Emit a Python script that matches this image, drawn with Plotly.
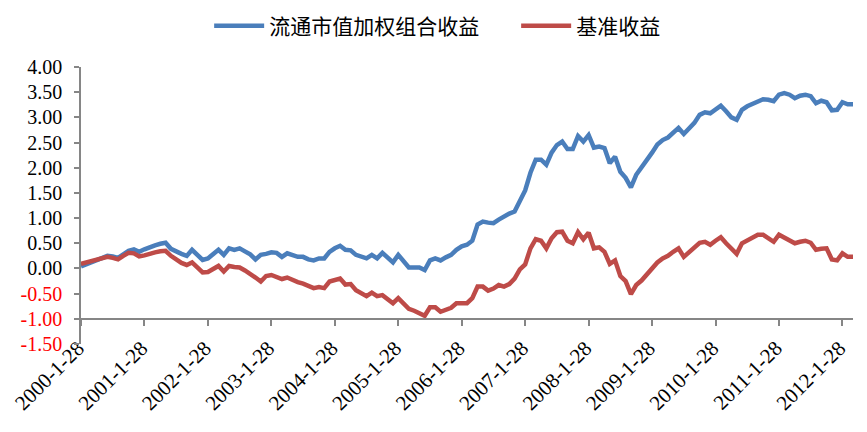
import plotly.graph_objects as go

# Monthly dates (categories), 2000-1-28 .. 2012-3-28
dates = [f"{y}-{m}-28" for y in range(2000, 2013) for m in range(1, 13)][:147]

portfolio = [
    0.04, 0.08, 0.13, 0.17, 0.21, 0.25, 0.24, 0.21, 0.28, 0.35, 0.38, 0.33,
    0.38, 0.43, 0.46, 0.49, 0.51, 0.39, 0.33, 0.29, 0.25, 0.37, 0.27, 0.17,
    0.20, 0.28, 0.37, 0.27, 0.40, 0.37, 0.40, 0.34, 0.28, 0.18, 0.27, 0.29,
    0.32, 0.31, 0.23, 0.30, 0.27, 0.23, 0.23, 0.18, 0.16, 0.20, 0.20, 0.33,
    0.40, 0.45, 0.37, 0.36, 0.27, 0.23, 0.20, 0.27, 0.20, 0.31, 0.22, 0.12,
    0.27, 0.15, 0.02, 0.02, 0.02, -0.03, 0.16, 0.20, 0.16, 0.22, 0.27, 0.37,
    0.44, 0.47, 0.55, 0.87, 0.93, 0.91, 0.90, 0.97, 1.04, 1.09, 1.13, 1.36,
    1.55, 1.90, 2.16, 2.16, 2.06, 2.30, 2.45, 2.52, 2.37, 2.37, 2.63, 2.52,
    2.65, 2.40, 2.42, 2.39, 2.09, 2.22, 1.92, 1.80, 1.61, 1.86, 2.00, 2.15,
    2.30, 2.46, 2.55, 2.60, 2.70, 2.79, 2.67, 2.78, 2.89, 3.05, 3.10, 3.08,
    3.15, 3.23, 3.12, 3.00, 2.95, 3.15, 3.22, 3.27, 3.33, 3.36, 3.35, 3.32,
    3.45, 3.48, 3.45, 3.38, 3.43, 3.45, 3.42, 3.28, 3.33, 3.30, 3.14, 3.15,
    3.30, 3.26, 3.26,
]

benchmark = [
    0.09, 0.12, 0.15, 0.17, 0.20, 0.23, 0.21, 0.18, 0.25, 0.31, 0.30, 0.24,
    0.26, 0.30, 0.32, 0.34, 0.35, 0.25, 0.17, 0.11, 0.07, 0.12, 0.02, -0.08,
    -0.07, -0.01, 0.05, -0.06, 0.05, 0.03, 0.02, -0.04, -0.10, -0.18, -0.26, -0.15,
    -0.13, -0.17, -0.21, -0.18, -0.23, -0.27, -0.30, -0.34, -0.39, -0.37, -0.39, -0.26,
    -0.23, -0.20, -0.32, -0.31, -0.43, -0.49, -0.55, -0.48, -0.55, -0.53, -0.61, -0.69,
    -0.59, -0.70, -0.80, -0.84, -0.88, -0.94, -0.77, -0.77, -0.86, -0.82, -0.78, -0.69,
    -0.69, -0.69, -0.59, -0.36, -0.36, -0.44, -0.40, -0.33, -0.36, -0.31, -0.20, -0.02,
    0.08, 0.40, 0.58, 0.55, 0.40, 0.60, 0.72, 0.73, 0.55, 0.50, 0.72, 0.58,
    0.71, 0.40, 0.42, 0.33, 0.09, 0.16, -0.15, -0.25, -0.51, -0.33, -0.24, -0.12,
    0.02, 0.12, 0.20, 0.25, 0.33, 0.40, 0.23, 0.33, 0.40, 0.51, 0.53, 0.47,
    0.55, 0.62, 0.50, 0.38, 0.29, 0.50, 0.55, 0.62, 0.67, 0.67, 0.60, 0.53,
    0.67, 0.62, 0.57, 0.50, 0.53, 0.55, 0.51, 0.37, 0.39, 0.40, 0.18, 0.16,
    0.30, 0.23, 0.23,
]

series_names = ["流通市值加权组合收益", "基准收益"]
series_colors = ["#4A7EBB", "#BE4B48"]

y_ticks = [4.0, 3.5, 3.0, 2.5, 2.0, 1.5, 1.0, 0.5, 0.0, -0.5, -1.0, -1.5]
y_ticktext = [
    (f"<span style='color:#FF0000'>{v:.2f}</span>" if v < 0 else f"{v:.2f}")
    for v in y_ticks
]
x_ticks = [d for d in dates if d.split("-")[1] == "1"]
y_min, y_max = -1.5, 4.0
x_cross = -1.0

fig = go.Figure()
for name, vals, col in zip(series_names, [portfolio, benchmark], series_colors):
    fig.add_trace(go.Scatter(
        x=dates, y=vals, mode="lines", name=name,
        line=dict(color=col, width=4.5),
    ))

serif = "Liberation Serif, Times New Roman, serif"

# page body has an 8px default margin, so the figure is drawn 8px in
fig.update_layout(
    width=859, height=424,
    margin=dict(l=73, r=14, t=59, b=88, autoexpand=False),
    paper_bgcolor="white", plot_bgcolor="white",
    showlegend=True,
    legend=dict(
        orientation="h", xref="paper", yref="paper",
        x=0.166, xanchor="left", y=1 + (59 - 18) / 277, yanchor="middle",
        font=dict(family="Noto Sans CJK SC", size=21, color="#000000"),
        itemwidth=50, entrywidth=242, entrywidthmode="pixels",
    ),
    xaxis=dict(
        type="category", range=[0, len(dates) - 1],
        tickmode="array", tickvals=x_ticks, ticktext=x_ticks,
        tickangle=-45, tickfont=dict(family=serif, size=21, color="#000000"),
        showline=True, linecolor="#868686", linewidth=1.5,
        ticks="outside", ticklen=6, tickcolor="#868686", tickwidth=1.5,
        showgrid=False, zeroline=False,
        anchor="free", position=(x_cross - y_min) / (y_max - y_min),
        ticklabelstandoff=2, ticklabelshift=-3,
    ),
    yaxis=dict(
        range=[y_min, y_max], tickmode="array", tickvals=y_ticks, ticktext=y_ticktext,
        tickfont=dict(family=serif, size=20, color="#000000"),
        showline=True, linecolor="#868686", linewidth=1.5,
        ticks="outside", ticklen=5, tickcolor="#868686", tickwidth=1.5,
        showgrid=False, zeroline=False,
        ticklabelstandoff=8,
    ),
)

fig.write_html("out.html")
